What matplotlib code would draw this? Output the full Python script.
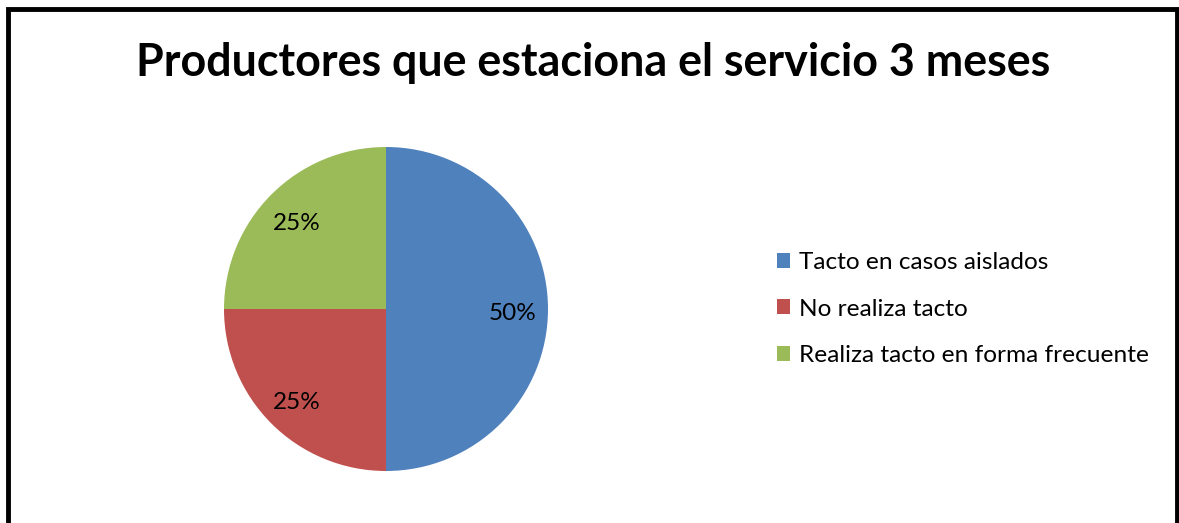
import matplotlib.pyplot as plt
from matplotlib.patches import Rectangle
from matplotlib.transforms import ScaledTranslation

labels = ["Tacto en casos aislados", "No realiza tacto", "Realiza tacto en forma frecuente"]
values = [50, 25, 25]
colors = ["#4F81BD", "#C0504D", "#9BBB59"]
title = "Productores que estaciona el servicio 3 meses"

plt.rcParams['font.family'] = ['Lato', 'DejaVu Sans']

W, H = 1179, 523
fig = plt.figure(figsize=(W / 100, H / 100), dpi=100)

# frame around the chart (no bottom edge visible)
fig.patches.append(Rectangle((8 / W, -0.1), (1176.5 - 8) / W, 1.1 - 8.5 / H,
                             transform=fig.transFigure, fill=False, edgecolor="black",
                             linewidth=3.5, clip_on=False))

fig.text(593 / W, 1 - 63 / H, title, ha="center", va="center",
         fontsize=32.3, fontweight="bold")

cx, cy, r = 386, 309, 162
ax = fig.add_axes([(cx - r) / W, 1 - (cy + r) / H, 2 * r / W, 2 * r / H])
wedges, _, autotexts = ax.pie(values, colors=colors, startangle=90, counterclock=False,
                              autopct="%d%%", pctdistance=0.78, radius=1,
                              textprops={"fontsize": 17.5})
for t in autotexts:
    t.set_transform(t.get_transform() + ScaledTranslation(0, -4 / 100, fig.dpi_scale_trans))
ax.set_xlim(-1, 1)
ax.set_ylim(-1, 1)
ax.set_aspect("equal")
ax.axis("off")

leg = fig.legend(wedges, labels, loc="center left", bbox_to_anchor=(777 / W, 1 - 309 / H),
                 frameon=False, fontsize=17.6, handlelength=0.55, handleheight=0.55,
                 handletextpad=0.37, labelspacing=1.04, borderaxespad=0, borderpad=0)

fig.savefig("out.png", dpi=100)
